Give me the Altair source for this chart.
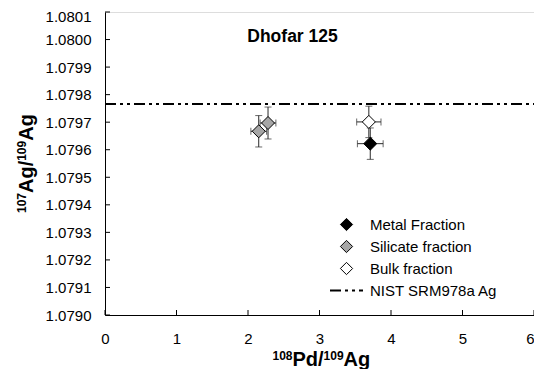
import altair as alt
import pandas as pd

# ---- data ----
series_names = ["Silicate fraction", "Silicate fraction", "Bulk fraction", "Metal Fraction"]
x_vals = [2.15, 2.28, 3.69, 3.71]
y_vals = [1.079667, 1.079697, 1.079701, 1.079622]
x_errs = [0.11, 0.11, 0.17, 0.18]
y_errs = [0.000057, 0.000058, 0.000057, 0.000057]

legend_order = ["Metal Fraction", "Silicate fraction", "Bulk fraction"]
fill_colors = ["#000000", "#a6a6a6", "#ffffff"]

ref_label = "NIST SRM978a Ag"
ref_value = 1.079766
ref_x = [0, 6]

x_ticks = [0, 1, 2, 3, 4, 5, 6]
y_ticks = [1.0790, 1.0791, 1.0792, 1.0793, 1.0794, 1.0795,
           1.0796, 1.0797, 1.0798, 1.0799, 1.0800, 1.0801]

annotation = "Dhofar 125"
ann_x = 1.99
ann_y = 1.07999

FONT = "Liberation Sans"
W, H = 429, 303

df = pd.DataFrame({"series": series_names, "x": x_vals, "y": y_vals,
                   "xerr": x_errs, "yerr": y_errs})
df["xlo"] = df["x"] - df["xerr"]
df["xhi"] = df["x"] + df["xerr"]
df["ylo"] = df["y"] - df["yerr"]
df["yhi"] = df["y"] + df["yerr"]

xs = alt.Scale(domain=[0, 6], nice=False, zero=False)
ys = alt.Scale(domain=[1.0790, 1.0801], nice=False, zero=False)

AX = alt.Axis(values=x_ticks, ticks=False, grid=False, title=None,
              domainColor="black", labelFont=FONT, labelFontSize=15,
              labelColor="black", labelPadding=16, format="d",
              labelOverlap=False, labelBound=False, labelFlush=False,
              labelAlign={"condition": {"test": "datum.value >= 6", "value": "right"},
                          "value": "center"})
AY = alt.Axis(values=y_ticks, ticks=False, grid=False, title=None,
              domainColor="black", labelFont=FONT, labelFontSize=15,
              labelColor="black", labelPadding=14, format=".4f",
              labelOverlap=False, labelFlush=False, labelBound=False,
              labelOffset={"condition": {"test": "datum.value > 1.08005", "value": 4},
                           "value": 0})


def X(f):
    return alt.X(f, scale=xs, axis=AX)


def Y(f):
    return alt.Y(f, scale=ys, axis=AY)


ERR = "#2a2a2a"

base = alt.Chart(df)
v_err = base.mark_rule(color=ERR, strokeWidth=1).encode(
    x=X("x:Q"), y=Y("ylo:Q"), y2="yhi:Q")
h_err = base.mark_rule(color=ERR, strokeWidth=1).encode(
    x=X("xlo:Q"), x2="xhi:Q", y=Y("y:Q"))

cap_lo = base.mark_tick(orient="horizontal", size=7, thickness=1, color=ERR).encode(
    x=X("x:Q"), y=Y("ylo:Q"))
cap_hi = base.mark_tick(orient="horizontal", size=7, thickness=1, color=ERR).encode(
    x=X("x:Q"), y=Y("yhi:Q"))
cap_l = base.mark_tick(orient="vertical", size=7, thickness=1, color=ERR).encode(
    x=X("xlo:Q"), y=Y("y:Q"))
cap_r = base.mark_tick(orient="vertical", size=7, thickness=1, color=ERR).encode(
    x=X("xhi:Q"), y=Y("y:Q"))

points = base.mark_point(shape="diamond", filled=True, size=170, stroke="black",
                         strokeWidth=1, opacity=1).encode(
    x=X("x:Q"),
    y=Y("y:Q"),
    fill=alt.Fill("series:N",
                  scale=alt.Scale(domain=legend_order, range=fill_colors),
                  legend=alt.Legend(title=None, orient="none", legendX=234, legendY=205,
                                    symbolType="diamond", symbolSize=150,
                                    symbolStrokeColor="black", symbolStrokeWidth=1,
                                    symbolOpacity=1, labelFont=FONT, labelFontSize=15,
                                    labelColor="black", labelOffset=16, rowPadding=5,
                                    padding=0)),
)

ref_df = pd.DataFrame({"label": [ref_label], "y": [ref_value],
                       "x0": [ref_x[0]], "x1": [ref_x[1]]})
ref = alt.Chart(ref_df).mark_rule(color="black", strokeWidth=2).encode(
    x=X("x0:Q"), x2="x1:Q",
    y=Y("y:Q"),
    strokeDash=alt.StrokeDash("label:N",
                              scale=alt.Scale(domain=[ref_label], range=[[11, 4, 3, 4, 3, 4]]),
                              legend=alt.Legend(title=None, orient="none", legendX=224,
                                                legendY=261, symbolType="stroke",
                                                symbolSize=1089, symbolStrokeWidth=2,
                                                symbolStrokeColor="black",
                                                labelFont=FONT, labelFontSize=15,
                                                labelColor="black", labelOffset=6,
                                                padding=0)),
)

xt = alt.Chart(pd.DataFrame({"v": x_ticks})).mark_rule(color="black").encode(
    x=X("v:Q"), y=alt.value(H), y2=alt.value(H - 5))
yt = alt.Chart(pd.DataFrame({"v": y_ticks})).mark_rule(color="black").encode(
    y=Y("v:Q"), x=alt.value(0), x2=alt.value(5))

ann = alt.Chart(pd.DataFrame({"t": [annotation], "x": [ann_x], "y": [ann_y]})).mark_text(
    font=FONT, fontSize=17.5, fontWeight="bold", align="left", baseline="alphabetic",
    color="black").encode(x=X("x:Q"), y=Y("y:Q"), text="t:N")

one = pd.DataFrame({"k": [0]})


def part(txt, size, x, y, angle=0):
    return alt.Chart(one).mark_text(font=FONT, fontSize=size, fontWeight="bold",
                                    align="left", baseline="alphabetic", angle=angle,
                                    color="black").encode(
        x=alt.value(x), y=alt.value(y), text=alt.value(txt))


MAIN, SUP = 20, 12
# widths (Arial bold metrics): sup digits 3*0.556*12 = 20.0 ; "Pd/" 1.556*20 = 31.1 ;
# "Ag" 1.333*20 = 26.7 ; "Ag/" 1.611*20 = 32.2
xtitle = [part("108", SUP, 167.5, 347.5), part("Pd/", MAIN, 187.5, 354),
          part("109", SUP, 218.6, 347.5), part("Ag", MAIN, 238.6, 354)]
ytitle = [part("107", SUP, -79, 201, 270), part("Ag/", MAIN, -72, 181, 270),
          part("109", SUP, -79, 148.8, 270), part("Ag", MAIN, -72, 128.8, 270)]

chart = alt.layer(v_err, h_err, cap_lo, cap_hi, cap_l, cap_r, ref, points, xt, yt,
                  ann, *xtitle, *ytitle).resolve_legend(fill="independent").properties(
    width=W, height=H,
    autosize=alt.AutoSizeParams(type="none"),
    padding={"left": 97, "top": 4, "right": 0, "bottom": 54},
).configure_view(stroke="#808080", strokeWidth=1).configure(background="white")

chart.save("out.html", embed_options={"renderer": "svg", "actions": False})
